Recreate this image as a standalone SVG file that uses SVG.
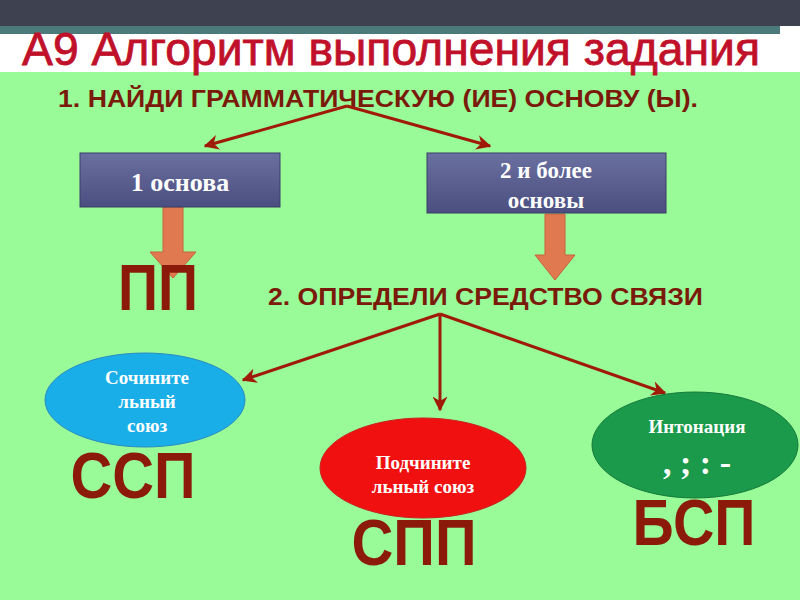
<svg xmlns="http://www.w3.org/2000/svg" width="800" height="600" viewBox="0 0 800 600">
<defs>
<style>
.h{font-family:"Liberation Sans",Arial,sans-serif;font-weight:bold;fill:#7a1a0a}
.s{font-family:"Liberation Serif","Times New Roman",serif;font-weight:bold;fill:#fff;text-anchor:middle}
.big{font-family:"Liberation Sans",Arial,sans-serif;font-weight:bold;fill:#8b1a0a;font-size:64px;text-anchor:middle}
.c{stroke:#a01a0a;stroke-width:3;fill:none;marker-end:url(#ah)}
.box{stroke:#3a3e66;stroke-width:1}
.oa{fill:#e07850;stroke:#c9603a;stroke-width:1}
</style>
<marker id="ah" viewBox="0 0 10 10" refX="9" refY="5" markerWidth="5" markerHeight="5" orient="auto"><path d="M0,0 L10,5 L0,10 L3,5 z" fill="#a01a0a"/></marker>
<linearGradient id="bg" x1="0" y1="0" x2="0" y2="1"><stop offset="0" stop-color="#6a70a0"/><stop offset="1" stop-color="#4a4e80"/></linearGradient>
</defs>
<rect width="800" height="600" fill="#98fb98"/>
<rect width="800" height="72" fill="#fff"/>
<rect width="800" height="26" fill="#3e4150"/>
<rect y="26" width="780" height="8" fill="#4a7a7a"/>
<text x="22" y="65" font-family="Liberation Sans,Arial,sans-serif" font-size="46" fill="#c0102a" stroke="#c0102a" stroke-width="0.8" textLength="738" lengthAdjust="spacingAndGlyphs">А9 Алгоритм выполнения задания</text>
<text class="h" x="58" y="107" font-size="23" textLength="640" lengthAdjust="spacingAndGlyphs">1. НАЙДИ ГРАММАТИЧЕСКУЮ (ИЕ) ОСНОВУ (Ы).</text>
<g id="connectors">
<path class="c" d="M347,106 L205,146"/>
<path class="c" d="M347,106 L490,146"/>
<path class="c" d="M440,314 L243,380"/>
<path class="c" d="M440,314 L440,410"/>
<path class="c" d="M440,314 L665,393"/>
<path class="oa" d="M163,207 H183 V252 H196 L173,278 L150,252 H163 Z"/>
<path class="oa" d="M545,214 H565 V255 H575 L555,280 L535,255 H545 Z"/>
</g>
<g id="n1"><rect class="box" x="80" y="153" width="200" height="54" fill="url(#bg)"/><text class="s" x="180" y="191" font-size="26">1 основа</text></g>
<g id="n2"><rect class="box" x="427" y="153" width="239" height="60" fill="url(#bg)"/><text class="s" x="546" y="178" font-size="23">2 и более</text><text class="s" x="546" y="208" font-size="23">основы</text></g>
<g id="pp"><text class="big" x="158" y="310" font-size="66" textLength="80" lengthAdjust="spacingAndGlyphs">ПП</text></g>
<text class="h" x="268" y="305" font-size="23" textLength="435" lengthAdjust="spacingAndGlyphs">2. ОПРЕДЕЛИ СРЕДСТВО СВЯЗИ</text>
<g id="e1"><ellipse cx="145" cy="400" rx="100" ry="47" fill="#1aaee8" stroke="#2a8ac0"/><text class="s" x="147" y="384" font-size="19">Сочините</text><text class="s" x="147" y="408" font-size="19">льный</text><text class="s" x="147" y="432" font-size="19">союз</text></g>
<g id="ssp"><text class="big" x="133" y="498" font-size="66" textLength="125" lengthAdjust="spacingAndGlyphs">ССП</text></g>
<g id="e2"><ellipse cx="423" cy="468" rx="103" ry="50" fill="#f01010" stroke="#c82020"/><text class="s" x="423" y="469" font-size="19">Подчините</text><text class="s" x="423" y="493" font-size="19">льный союз</text></g>
<g id="spp"><text class="big" x="414" y="565" font-size="66" textLength="125" lengthAdjust="spacingAndGlyphs">СПП</text></g>
<g id="e3"><ellipse cx="695" cy="445" rx="103" ry="53" fill="#1a9a4a" stroke="#157a3a"/><text class="s" x="697" y="433" font-size="19">Интонация</text><text class="s" x="697" y="474" font-size="34">, ; : -</text></g>
<g id="bsp"><text class="big" x="694" y="545" font-size="66" textLength="123" lengthAdjust="spacingAndGlyphs">БСП</text></g>
</svg>
